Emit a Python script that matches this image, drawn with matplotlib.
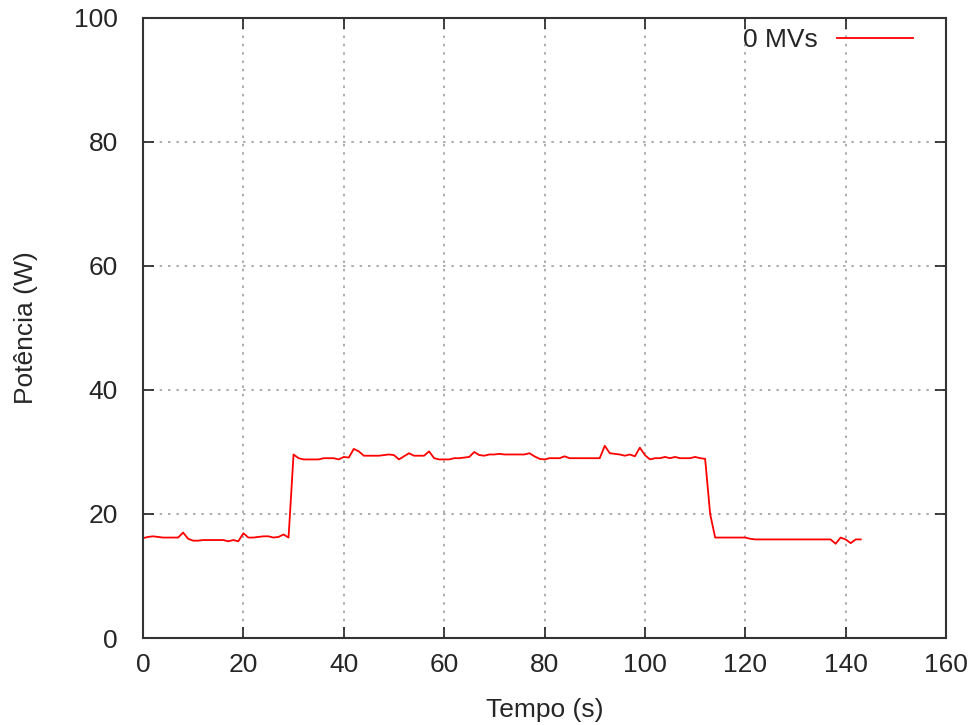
import numpy as np
import matplotlib
matplotlib.use("Agg")
import matplotlib.pyplot as plt

# power samples, one per second
tempo = np.arange(0, 144)
potencia = [
    16.1, 16.3, 16.4, 16.3, 16.2, 16.2, 16.2, 16.2, 17.0, 16.0,
    15.7, 15.7, 15.8, 15.8, 15.8, 15.8, 15.8, 15.6, 15.8, 15.6,
    16.9, 16.2, 16.2, 16.3, 16.4, 16.4, 16.2, 16.3, 16.7, 16.2,
    29.6, 29.0, 28.8, 28.8, 28.8, 28.8, 29.0, 29.0, 29.0, 28.8,
    29.2, 29.1, 30.5, 30.1, 29.4, 29.4, 29.4, 29.4, 29.5, 29.6,
    29.5, 28.8, 29.3, 29.8, 29.4, 29.4, 29.4, 30.1, 29.0, 28.8,
    28.8, 28.8, 29.0, 29.0, 29.1, 29.2, 30.0, 29.5, 29.4, 29.6,
    29.6, 29.7, 29.6, 29.6, 29.6, 29.6, 29.6, 29.8, 29.3, 28.9,
    28.8, 29.0, 29.0, 29.0, 29.3, 29.0, 29.0, 29.0, 29.0, 29.0,
    29.0, 29.0, 31.0, 29.8, 29.7, 29.6, 29.4, 29.6, 29.3, 30.7,
    29.5, 28.8, 29.0, 29.0, 29.2, 29.0, 29.2, 29.0, 29.0, 29.0,
    29.2, 29.0, 28.9, 20.0, 16.2, 16.2, 16.2, 16.2, 16.2, 16.2,
    16.2, 16.0, 15.9, 15.9, 15.9, 15.9, 15.9, 15.9, 15.9, 15.9,
    15.9, 15.9, 15.9, 15.9, 15.9, 15.9, 15.9, 15.9, 15.2, 16.2,
    15.9, 15.3, 15.9, 15.9,
]
xticks = np.arange(0, 161, 20)
yticks = np.arange(0, 101, 20)

plt.rcParams['font.family'] = ['Liberation Sans', 'DejaVu Sans']
fs = 19
txt = '#262626'

fig = plt.figure(figsize=(9.72, 7.25), dpi=100)
ax = fig.add_axes([0.1471, 0.12, 0.8262, 0.8552])

ax.plot(tempo, potencia, color='#ff0000', lw=1.3, label='0 MVs')

ax.set_xlim(0, 160)
ax.set_ylim(0, 100)
ax.set_xticks(xticks)
ax.set_yticks(yticks)
ax.tick_params(direction='in', length=8, width=1.2, labelsize=fs,
               top=True, right=True, colors='#222222', labelcolor=txt)
ax.tick_params(axis='x', pad=11)
ax.tick_params(axis='y', pad=18)
for s in ax.spines.values():
    s.set_linewidth(1.5)
    s.set_color('#333333')
ax.grid(True, color='#a0a0a0', ls=(0, (1.5, 3.5)), lw=1.2)

ax.set_xlabel('Tempo (s)', fontsize=fs, color=txt, labelpad=15)
ax.set_ylabel('Potência (W)', fontsize=fs, color=txt, labelpad=26)

ax.legend(loc='upper right', bbox_to_anchor=(0.975, 1.005), frameon=False,
          markerfirst=False, fontsize=fs, handlelength=2.88, borderpad=0,
          handletextpad=0.72, labelcolor=txt)

fig.savefig('out.png', dpi=100)
